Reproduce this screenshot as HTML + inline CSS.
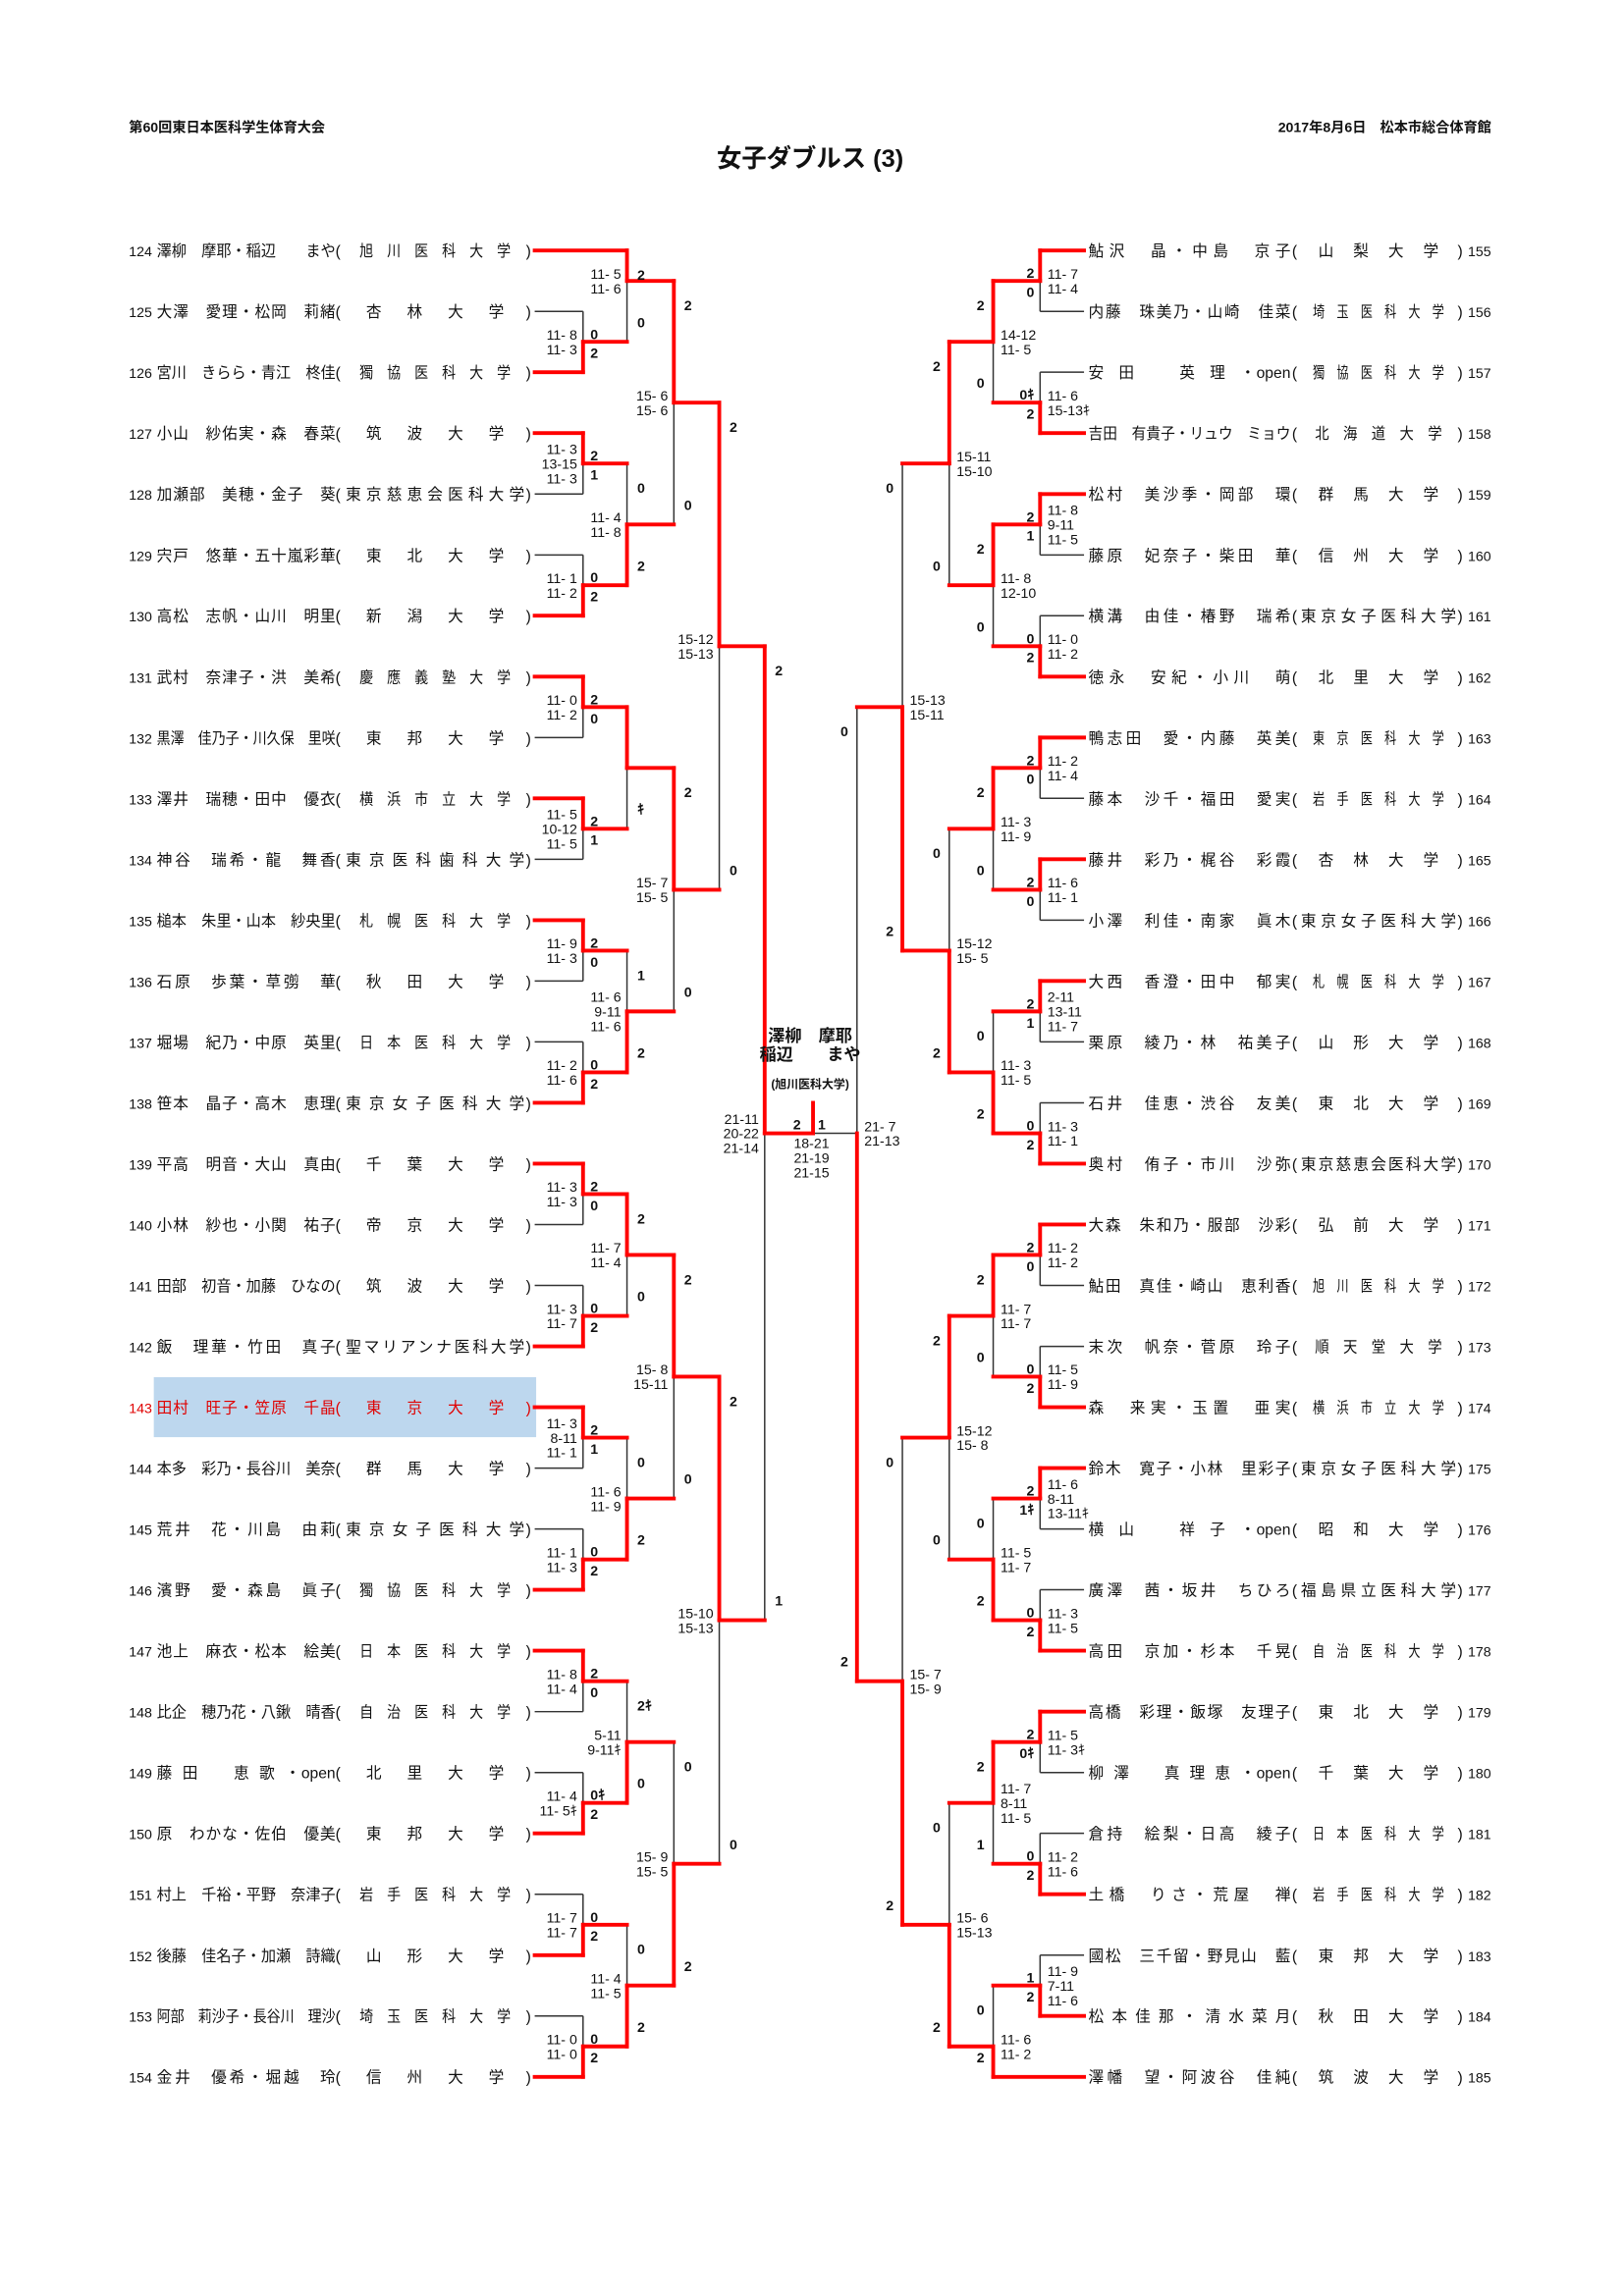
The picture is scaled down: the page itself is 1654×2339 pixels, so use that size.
<!DOCTYPE html>
<html><head><meta charset="utf-8">
<style>
html,body{margin:0;padding:0;background:#fff;}
svg{display:block;}
text{font-family:"Liberation Sans","Noto Sans CJK JP",sans-serif;fill:#111;}
</style></head>
<body>
<div id="c"></div>
<script>
(function(){
const Y=i=>171+41.57*i;
const LX=[398,428,460,491,522], RX=[710,678,648,616,585];
const blk=[], red=[], tx=[];
function ln(x1,y1,x2,y2,r){(r?red:blk).push(`<line x1="${x1}" y1="${y1.toFixed(1)}" x2="${x2}" y2="${y2.toFixed(1)}" stroke="${r?'#ff0000':'#333'}" stroke-width="${r?2.6:1}" stroke-linecap="${r?'square':'butt'}"/>`);}
function t(x,y,s,o){o=o||{};tx.push(`<text x="${x}" y="${y.toFixed(1)}" font-size="${o.fs||9.5}"${o.a?` text-anchor="${o.a}"`:''}${o.b?' font-weight="bold"':''}${o.fill?` style="fill:${o.fill}"`:''}${o.len?` textLength="${o.len}" lengthAdjust="${o.adj||'spacing'}"`:''}>${s}</text>`);}
const L=[
[0,1,2,1.5,'b',["11- 8","11- 3"],"0","2"],
[1,0,1.5,0.5,'t',["11- 5","11- 6"],"2","0"],
[0,3,4,3.5,'t',["11- 3","13-15","11- 3"],"2","1"],
[0,5,6,5.5,'b',["11- 1","11- 2"],"0","2"],
[1,3.5,5.5,4.5,'b',["11- 4","11- 8"],"0","2"],
[2,0.5,4.5,2.5,'t',["15- 6","15- 6"],"2","0"],
[0,7,8,7.5,'t',["11- 0","11- 2"],"2","0"],
[0,9,10,9.5,'t',["11- 5","10-12","11- 5"],"2","1"],
[1,7.5,9.5,8.5,'t',[],"","ｷ"],
[0,11,12,11.5,'t',["11- 9","11- 3"],"2","0"],
[0,13,14,13.5,'b',["11- 2","11- 6"],"0","2"],
[1,11.5,13.5,12.5,'b',["11- 6","9-11","11- 6"],"1","2"],
[2,8.5,12.5,10.5,'t',["15- 7","15- 5"],"2","0"],
[3,2.5,10.5,6.5,'t',["15-12","15-13"],"2","0"],
[0,15,16,15.5,'t',["11- 3","11- 3"],"2","0"],
[0,17,18,17.5,'b',["11- 3","11- 7"],"0","2"],
[1,15.5,17.5,16.5,'t',["11- 7","11- 4"],"2","0"],
[0,19,20,19.5,'t',["11- 3","8-11","11- 1"],"2","1"],
[0,21,22,21.5,'b',["11- 1","11- 3"],"0","2"],
[1,19.5,21.5,20.5,'b',["11- 6","11- 9"],"0","2"],
[2,16.5,20.5,18.5,'t',["15- 8","15-11"],"2","0"],
[0,23,24,23.5,'t',["11- 8","11- 4"],"2","0"],
[0,25,26,25.5,'b',["11- 4","11- 5ｷ"],"0ｷ","2"],
[1,23.5,25.5,24.5,'b',["5-11","9-11ｷ"],"2ｷ","0"],
[0,27,28,27.5,'b',["11- 7","11- 7"],"0","2"],
[0,29,30,29.5,'b',["11- 0","11- 0"],"0","2"],
[1,27.5,29.5,28.5,'b',["11- 4","11- 5"],"0","2"],
[2,24.5,28.5,26.5,'b',["15- 9","15- 5"],"0","2"],
[3,18.5,26.5,22.5,'t',["15-10","15-13"],"2","0"],
[4,6.5,22.5,14.5,'t',["21-11","20-22","21-14"],"2","1"]];
const R=[
[0,0,1,0.5,'t',["11- 7","11- 4"],"2","0"],
[0,2,3,2.5,'b',["11- 6","15-13ｷ"],"0ｷ","2"],
[1,0.5,2.5,1.5,'t',["14-12","11- 5"],"2","0"],
[0,4,5,4.5,'t',["11- 8","9-11","11- 5"],"2","1"],
[0,6,7,6.5,'b',["11- 0","11- 2"],"0","2"],
[1,4.5,6.5,5.5,'t',["11- 8","12-10"],"2","0"],
[2,1.5,5.5,3.5,'t',["15-11","15-10"],"2","0"],
[0,8,9,8.5,'t',["11- 2","11- 4"],"2","0"],
[0,10,11,10.5,'t',["11- 6","11- 1"],"2","0"],
[1,8.5,10.5,9.5,'t',["11- 3","11- 9"],"2","0"],
[0,12,13,12.5,'t',["2-11","13-11","11- 7"],"2","1"],
[0,14,15,14.5,'b',["11- 3","11- 1"],"0","2"],
[1,12.5,14.5,13.5,'b',["11- 3","11- 5"],"0","2"],
[2,9.5,13.5,11.5,'b',["15-12","15- 5"],"0","2"],
[3,3.5,11.5,7.5,'b',["15-13","15-11"],"0","2"],
[0,16,17,16.5,'t',["11- 2","11- 2"],"2","0"],
[0,18,19,18.5,'b',["11- 5","11- 9"],"0","2"],
[1,16.5,18.5,17.5,'t',["11- 7","11- 7"],"2","0"],
[0,20,21,20.5,'t',["11- 6","8-11","13-11ｷ"],"2","1ｷ"],
[0,22,23,22.5,'b',["11- 3","11- 5"],"0","2"],
[1,20.5,22.5,21.5,'b',["11- 5","11- 7"],"0","2"],
[2,17.5,21.5,19.5,'t',["15-12","15- 8"],"2","0"],
[0,24,25,24.5,'t',["11- 5","11- 3ｷ"],"2","0ｷ"],
[0,26,27,26.5,'b',["11- 2","11- 6"],"0","2"],
[1,24.5,26.5,25.5,'t',["11- 7","8-11","11- 5"],"2","1"],
[0,28,29,28.5,'b',["11- 9","7-11","11- 6"],"1","2"],
[1,28.5,30,29.5,'b',["11- 6","11- 2"],"0","2"],
[2,25.5,29.5,27.5,'b',["15- 6","15-13"],"0","2"],
[3,19.5,27.5,23.5,'b',["15- 7","15- 9"],"0","2"],
[4,7.5,23.5,14.5,'b',["21- 7","21-13"],"0","2"]];
function side(M,X,N,left){
 M.forEach(m=>{
  const [lv,a,b,j,w,sc,lt,lb]=m; const x=X[lv];
  ln(x,Y(a),x,Y(b),false);
  const wr=w==='t'?a:b; ln(x,Y(wr),x,Y(j),true);
  [a,b].forEach((r,k)=>{ if(Number.isInteger(r)) ln(N,Y(r),x,Y(r),(k===0)===(w==='t')); });
  if(lv<4) ln(x,Y(j),X[lv+1],Y(j),true);
  else ln(x,Y(j),555,Y(j),left);
  const n=sc.length;
  sc.forEach((s,k)=>{ const yy=Y(j)-(n-1)*5+k*10+3.5; if(left) t(x-4,yy,s,{a:'end'}); else t(x+5,yy,s,{}); });
  let yt,yb; if(lv===0){yt=Y(j)-2;yb=Y(j)+11;} else {yt=Y(a)+20;yb=Y(b)-10;}
  const lx=left?x+(lv===0?5:7):x-(lv===0?4:6);
  const o=left?{b:1}:{b:1,a:'end'};
  if(lt) t(lx,yt,lt,o); if(lb) t(lx,yb,lb,o);
 });
}
side(L,LX,365,true); side(R,RX,740,false);
ln(555,Y(14.5),555,753,true);
const LN=[
["124","澤柳　摩耶・稲辺　　まや","　旭　川　医　科　大　学　"],
["125","大澤　愛理・松岡　莉緒","　杏　林　大　学　"],
["126","宮川　きらら・青江　柊佳","　獨　協　医　科　大　学　"],
["127","小山　紗佑実・森　春菜","　筑　波　大　学　"],
["128","加瀬部　美穂・金子　葵","東京慈恵会医科大学"],
["129","宍戸　悠華・五十嵐彩華","　東　北　大　学　"],
["130","高松　志帆・山川　明里","　新　潟　大　学　"],
["131","武村　奈津子・洪　美希","　慶　應　義　塾　大　学　"],
["132","黒澤　佳乃子・川久保　里咲","　東　邦　大　学　"],
["133","澤井　瑞穂・田中　優衣","　横　浜　市　立　大　学　"],
["134","神谷　瑞希・龍　舞香","東京医科歯科大学"],
["135","槌本　朱里・山本　紗央里","　札　幌　医　科　大　学　"],
["136","石原　歩葉・草彅　華","　秋　田　大　学　"],
["137","堀場　紀乃・中原　英里","　日　本　医　科　大　学　"],
["138","笹本　晶子・高木　恵理","東京女子医科大学"],
["139","平高　明音・大山　真由","　千　葉　大　学　"],
["140","小林　紗也・小関　祐子","　帝　京　大　学　"],
["141","田部　初音・加藤　ひなの","　筑　波　大　学　"],
["142","飯　理華・竹田　真子","聖マリアンナ医科大学"],
["143","田村　旺子・笠原　千晶","　東　京　大　学　"],
["144","本多　彩乃・長谷川　美奈","　群　馬　大　学　"],
["145","荒井　花・川島　由莉","東京女子医科大学"],
["146","濱野　愛・森島　眞子","　獨　協　医　科　大　学　"],
["147","池上　麻衣・松本　絵美","　日　本　医　科　大　学　"],
["148","比企　穂乃花・八鍬　晴香","　自　治　医　科　大　学　"],
["149","藤田　恵歌・open","　北　里　大　学　"],
["150","原　わかな・佐伯　優美","　東　邦　大　学　"],
["151","村上　千裕・平野　奈津子","　岩　手　医　科　大　学　"],
["152","後藤　佳名子・加瀬　詩織","　山　形　大　学　"],
["153","阿部　莉沙子・長谷川　理沙","　埼　玉　医　科　大　学　"],
["154","金井　優希・堀越　玲","　信　州　大　学　"]];
const RN=[
["155","鮎沢　晶・中島　京子","　山　梨　大　学　"],
["156","内藤　珠美乃・山崎　佳菜","　埼　玉　医　科　大　学　"],
["157","安田　英理・open","　獨　協　医　科　大　学　"],
["158","吉田　有貴子・リュウ　ミョウ","　北　海　道　大　学　"],
["159","松村　美沙季・岡部　環","　群　馬　大　学　"],
["160","藤原　妃奈子・柴田　華","　信　州　大　学　"],
["161","横溝　由佳・椿野　瑞希","東京女子医科大学"],
["162","徳永　安紀・小川　萌","　北　里　大　学　"],
["163","鴨志田　愛・内藤　英美","　東　京　医　科　大　学　"],
["164","藤本　沙千・福田　愛実","　岩　手　医　科　大　学　"],
["165","藤井　彩乃・梶谷　彩霞","　杏　林　大　学　"],
["166","小澤　利佳・南家　眞木","東京女子医科大学"],
["167","大西　香澄・田中　郁実","　札　幌　医　科　大　学　"],
["168","栗原　綾乃・林　祐美子","　山　形　大　学　"],
["169","石井　佳恵・渋谷　友美","　東　北　大　学　"],
["170","奥村　侑子・市川　沙弥","東京慈恵会医科大学"],
["171","大森　朱和乃・服部　沙彩","　弘　前　大　学　"],
["172","鮎田　真佳・崎山　恵利香","　旭　川　医　科　大　学　"],
["173","末次　帆奈・菅原　玲子","　順　天　堂　大　学　"],
["174","森　来実・玉置　亜実","　横　浜　市　立　大　学　"],
["175","鈴木　寛子・小林　里彩子","東京女子医科大学"],
["176","横山　祥子・open","　昭　和　大　学　"],
["177","廣澤　茜・坂井　ちひろ","福島県立医科大学"],
["178","高田　京加・杉本　千晃","　自　治　医　科　大　学　"],
["179","高橋　彩理・飯塚　友理子","　東　北　大　学　"],
["180","柳澤　真理恵・open","　千　葉　大　学　"],
["181","倉持　絵梨・日高　綾子","　日　本　医　科　大　学　"],
["182","土橋　りさ・荒屋　禅","　岩　手　医　科　大　学　"],
["183","國松　三千留・野見山　藍","　東　邦　大　学　"],
["184","松本佳那・清水菜月","　秋　田　大　学　"],
["185","澤幡　望・阿波谷　佳純","　筑　波　大　学　"]];
const FS=10.5;
function fit(s,len){const n=[...s].length;const w=n*FS*0.97;return w>len?'spacingAndGlyphs':'spacing';}
function nameField(x,y,s,len,o){
 if(s.endsWith('open')){
  const p=s.slice(0,-4); const l2=len-24;
  t(x,y,p,Object.assign({fs:FS,len:l2,adj:fit(p,l2)},o));
  t(x+len,y,'open',Object.assign({fs:FS,a:'end'},o));
 } else t(x,y,s,Object.assign({fs:FS,len:len,adj:fit(s,len)},o));
}
let hl='<rect x="105" y="'+(Y(19)-20.5).toFixed(1)+'" width="261" height="41" fill="#bdd7ee"/>';
LN.forEach((r,i)=>{const y=Y(i)+4;const o=i===19?{fill:'#e00000'}:{};
 t(88,y,r[0],Object.assign({fs:9.5},o));
 nameField(107,y,r[1],122,o);
 t(229,y,'(',Object.assign({fs:FS},o));
 t(236,y,r[2],Object.assign({fs:FS,len:122,adj:fit(r[2],122)},o));
 t(359,y,')',Object.assign({fs:FS},o));
});
RN.forEach((r,i)=>{const y=Y(i)+4;
 nameField(743,y,r[1],138,{});
 t(882,y,'(',{fs:FS});
 t(888,y,r[2],{fs:FS,len:106,adj:fit(r[2],106)});
 t(995,y,')',{fs:FS});
 t(1002,y,r[0],{fs:9.5});
});
t(88,90,'第60回東日本医科学生体育大会',{fs:9.5,b:1});
t(1018,90,'2017年8月6日　松本市総合体育館',{fs:9.5,b:1,a:'end'});
t(553,114,'女子ダブルス (3)',{fs:17,b:1,a:'middle'});
t(553,711,'澤柳　摩耶',{fs:11.5,b:1,a:'middle'});
t(553,724,'稲辺　　まや',{fs:11.5,b:1,a:'middle'});
t(553,743,'(旭川医科大学)',{fs:8,b:1,a:'middle'});
t(544,771,'2',{fs:9.5,b:1,a:'middle'});
t(561,771,'1',{fs:9.5,b:1,a:'middle'});
t(554,784,'18-21',{fs:9.5,a:'middle'});
t(554,794,'21-19',{fs:9.5,a:'middle'});
t(554,804,'21-15',{fs:9.5,a:'middle'});
document.getElementById('c').innerHTML='<svg xmlns="http://www.w3.org/2000/svg" width="1654" height="2339" viewBox="0 0 1108.6 1567.7">'+hl+blk.join('')+red.join('')+tx.join('')+'</svg>';
})();
</script>
</body></html>
